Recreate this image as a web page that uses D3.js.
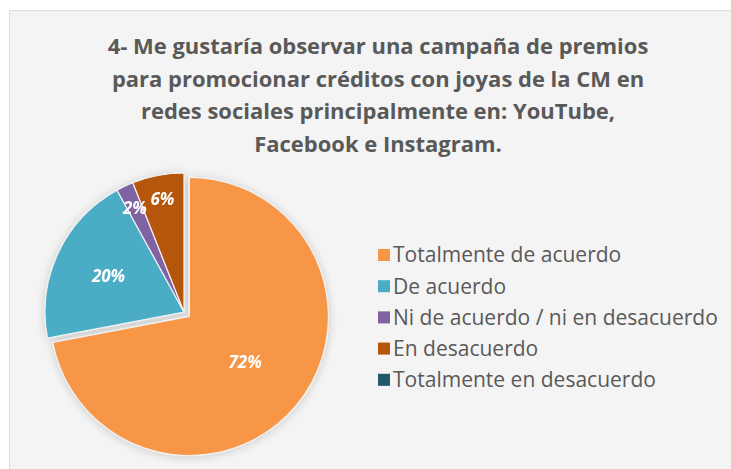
<!DOCTYPE html>
<html>
<head>
<meta charset="utf-8">
<script src="https://cdn.jsdelivr.net/npm/d3@7"></script>
<style>
   html, body { margin: 0; padding: 0; background: #ffffff; }
   svg { display: block; }
</style>
</head>
<body>
<div id="chart"></div>
<script>
"use strict";

const titleLines = [
   "4- Me gustaría observar una campaña de premios",
   "para promocionar créditos con joyas de la CM en",
   "redes sociales principalmente en: YouTube,",
   "Facebook e Instagram."
];
const categories = [
   "Totalmente de acuerdo",
   "De acuerdo",
   "Ni de acuerdo / ni en desacuerdo",
   "En desacuerdo",
   "Totalmente en desacuerdo"
];
const values = [72, 20, 2, 6, 0];
const colours = ["#F79646", "#4BACC6", "#8064A2", "#B65708", "#215968"];

(function () {
   const width = 731;
   const height = 469;
   const centreX = 184;
   const centreY = 312;
   const radius = 139;
   const explode = 7;
   const fontFamily = "'Open Sans', 'Noto Sans', sans-serif";

   const svg = d3.select("#chart").append("svg")
      .attr("width", width)
      .attr("height", height);

   const defs = svg.append("defs");
   const shadow = defs.append("filter")
      .attr("id", "pieShadow")
      .attr("x", "-20%").attr("y", "-20%")
      .attr("width", "140%").attr("height", "140%");
   shadow.append("feGaussianBlur")
      .attr("in", "SourceAlpha")
      .attr("stdDeviation", 5);
   shadow.append("feOffset").attr("dx", 0).attr("dy", 1).attr("result", "blur");
   shadow.append("feComponentTransfer")
      .append("feFuncA").attr("type", "linear").attr("slope", 0.18);
   const merge = shadow.append("feMerge");
   merge.append("feMergeNode");
   merge.append("feMergeNode").attr("in", "SourceGraphic");

   // chart area
   svg.append("rect")
      .attr("x", 9.5)
      .attr("y", 10.5)
      .attr("width", width)
      .attr("height", height)
      .attr("fill", "#f4f4f4")
      .attr("stroke", "#dcdcdc");

   // title, fitted to the reference width
   const title = svg.append("g")
      .attr("font-family", fontFamily)
      .attr("font-weight", "bold")
      .attr("fill", "#595959")
      .attr("text-anchor", "middle");

   const probe = title.append("text")
      .attr("font-size", 20)
      .text(titleLines[0]);
   const titleSize = 20 * 541 / probe.node().getComputedTextLength();
   probe.remove();

   title.selectAll("text")
      .data(titleLines)
      .enter()
      .append("text")
      .attr("x", 378)
      .attr("y", (d, i) => 54 + i * 32.7)
      .attr("font-size", titleSize)
      .text(d => d);

   // pie
   const pie = d3.pie()
      .sort(null)
      .value(d => d.value);

   const arcs = pie(categories.map((c, i) => ({ name: c, value: values[i], colour: colours[i] })))
      .filter(d => d.data.value > 0);

   const arc = d3.arc()
      .innerRadius(0)
      .outerRadius(radius);

   function offset(d) {
      if (d.index !== 0) return [0, 0];
      const mid = (d.startAngle + d.endAngle) / 2;
      return [Math.sin(mid) * explode, -Math.cos(mid) * explode];
   }

   const pieGroup = svg.append("g")
      .attr("transform", `translate(${centreX},${centreY})`)
      .attr("filter", "url(#pieShadow)");

   pieGroup.selectAll("path")
      .data(arcs)
      .enter()
      .append("path")
      .attr("d", arc)
      .attr("transform", d => `translate(${offset(d)})`)
      .attr("fill", d => d.data.colour)
      .attr("stroke", "#f1f1f1")
      .attr("stroke-width", 1.2);

   // big slices get labels nearer the middle, small ones near the rim
   const labelPos = d => {
      const r = d.data.value >= 50 ? radius * 0.52
         : d.data.value >= 15 ? radius * 0.6
         : radius * 0.83;
      return d3.arc().innerRadius(r).outerRadius(r).centroid(d);
   };

   pieGroup.selectAll("text")
      .data(arcs)
      .enter()
      .append("text")
      .attr("transform", d => {
         const [x, y] = labelPos(d);
         const [ox, oy] = offset(d);
         return `translate(${x + ox},${y + oy})`;
      })
      .attr("text-anchor", "middle")
      .attr("dy", "0.35em")
      .attr("font-family", fontFamily)
      .attr("font-weight", "bold")
      .attr("font-style", "italic")
      .attr("font-size", 17)
      .attr("fill", "#ffffff")
      .text(d => `${d.data.value}%`);

   // legend
   const legend = svg.append("g")
      .attr("font-family", fontFamily)
      .attr("fill", "#595959");

   const legendProbe = legend.append("text")
      .attr("font-size", 17)
      .text(categories[2]);
   const legendSize = 17 * 325 / legendProbe.node().getComputedTextLength();
   legendProbe.remove();

   const rows = legend.selectAll("g")
      .data(categories)
      .enter()
      .append("g")
      .attr("transform", (d, i) => `translate(378,${255 + i * 31.2})`);

   rows.append("rect")
      .attr("x", 0)
      .attr("y", -6)
      .attr("width", 12)
      .attr("height", 12)
      .attr("fill", (d, i) => colours[i]);

   rows.append("text")
      .attr("x", 15)
      .attr("dy", "0.35em")
      .attr("font-size", legendSize)
      .text(d => d);
})();
</script>
</body>
</html>
